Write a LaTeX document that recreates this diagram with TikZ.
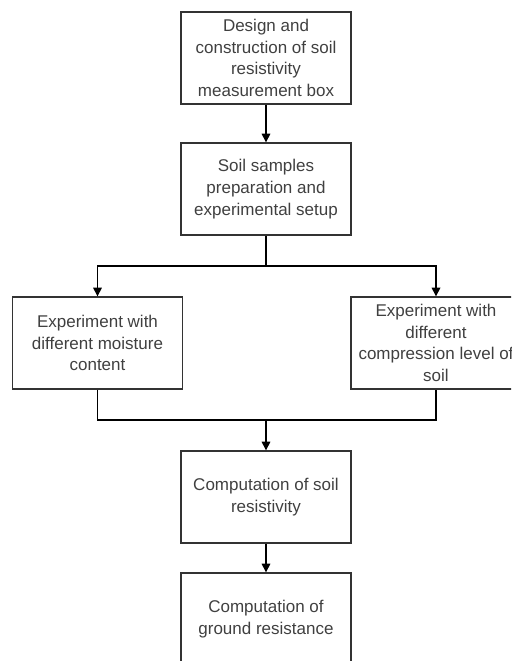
\documentclass[tikz,border=0pt]{standalone}
\usepackage{fontspec}
\setmainfont{Liberation Sans}
\usetikzlibrary{arrows.meta, positioning}

\definecolor{boxline}{HTML}{333333}
\definecolor{boxtext}{HTML}{404040}

\begin{document}
\begin{tikzpicture}[x=0.75pt, y=-0.75pt,
    block/.style={draw=boxline, line width=1pt, rectangle, align=center,
        minimum width=127.5pt, minimum height=69pt, inner sep=2pt,
        text=boxtext, font=\fontsize{12.75}{16.3}\selectfont},
    arrow/.style={line width=0.9pt, -{Triangle[length=6.5pt, width=6.5pt]}}]
    \useasboundingbox (0,0) rectangle (511,661);
    \clip (0,0) rectangle (511,661);

    % Main column
    \node[block] (design) at (266,58) {Design and\\construction of soil\\resistivity\\measurement box};
    \node[block] (prep) at (266,189) {Soil samples\\preparation and\\experimental setup};

    % Two experiments
    \node[block] (moist) at (97.5,343) {Experiment with\\different moisture\\content};
    \node[block] (comp) at (436,343) {Experiment with\\different\\compression level of\\soil};

    % Computations
    \node[block] (resist) at (266,497) {Computation of soil\\resistivity};
    \node[block] (ground) at (266,619) {Computation of\\ground resistance};

    % Split and merge points
    \coordinate (split) at (266,266);
    \coordinate (merge) at (266,420);

    % Connectors
    \draw[arrow] (design) -- (prep);
    \draw[line width=0.9pt] (prep) -- (split);
    \draw[arrow] (split) -| (moist);
    \draw[arrow] (split) -| (comp);
    \draw[line width=0.9pt] (moist) |- (merge) -| (comp);
    \draw[arrow] (merge) -- (resist);
    \draw[arrow] (resist) -- (ground);
\end{tikzpicture}
\end{document}
